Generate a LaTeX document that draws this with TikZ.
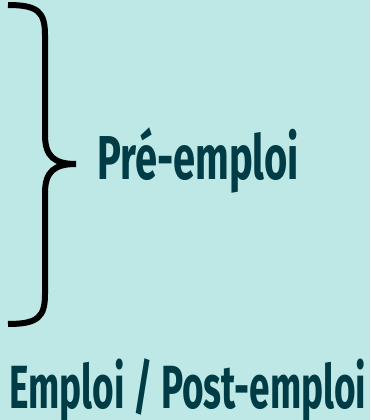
\documentclass[tikz,border=0pt]{standalone}
\usepackage{fontspec}
\setmainfont{Fira Sans}[BoldFont=* Bold]
\newfontfamily\labelfont{Fira Sans Bold}
\definecolor{bgteal}{HTML}{BEE8E5}
\definecolor{darkteal}{HTML}{003C45}
\begin{document}
\begin{tikzpicture}[x=1pt,y=-1pt,
  bracestyle/.style={line width=6pt, black, line cap=butt},
  labelstyle/.style={anchor=base west, inner sep=0pt, text=darkteal, font=\labelfont}]
\fill[bgteal] (0,0) rectangle (370,420);
\useasboundingbox (0,0) rectangle (370,420);
\coordinate (tip) at (76,164);
\draw[bracestyle] (8,5) .. controls (38,5) and (45,12) .. (45,35)
  -- (45,135) .. controls (45,157) and (55,164) .. (tip)
  .. controls (55,164) and (45,171) .. (45,193)
  -- (45,294) .. controls (45,317) and (38,324) .. (8,324);
\node[labelstyle] (pre) at (97,179) {\resizebox{202pt}{\height}{\fontsize{62}{62}\selectfont Pré-emploi}};
\node[labelstyle] (emp) at (9,408) {\resizebox{357pt}{\height}{\fontsize{61}{61}\selectfont Emploi / Post-emploi}};
\end{tikzpicture}
\end{document}
